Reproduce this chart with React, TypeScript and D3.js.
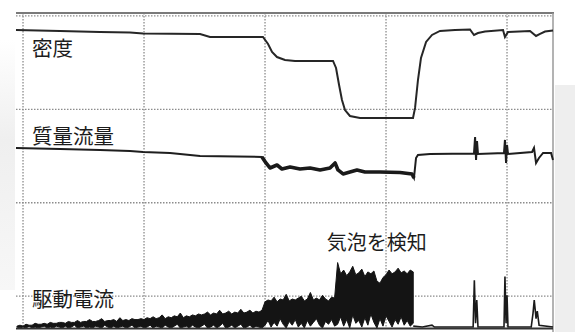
import React, { useRef, useEffect } from "react";
import * as d3 from "d3";

// time axis in divisions, signal levels in divisions above the bottom edge
const gridTimes = [0, 1, 2, 3, 4];
const gridLevels = [0.34, 1.34, 2.34, 3.34];

const densityT = [-0.058, 0.306, 0.636, 0.884, 0.992, 1.463, 1.545, 1.983, 2.025, 2.058, 2.099, 2.165, 2.248, 2.562, 2.587, 2.612, 2.636, 2.661, 2.702, 2.785, 3.223, 3.24, 3.264, 3.289, 3.331, 3.38, 3.446, 3.57, 3.694, 3.727, 3.76, 3.818, 3.967, 3.983, 4.008, 4.19, 4.24, 4.273, 4.314, 4.38];
const densityV = [3.188, 3.178, 3.167, 3.161, 3.151, 3.146, 3.113, 3.113, 3.039, 2.953, 2.899, 2.867, 2.857, 2.857, 2.782, 2.6, 2.439, 2.332, 2.268, 2.247, 2.247, 2.354, 2.653, 2.889, 3.06, 3.135, 3.178, 3.188, 3.194, 3.135, 3.156, 3.172, 3.188, 3.113, 3.167, 3.178, 3.124, 3.146, 3.172, 3.183];

const massFlowT = [-0.058, 0.306, 0.636, 0.884, 0.992, 1.215, 1.463, 1.975, 2.008, 2.041, 2.099, 2.14, 2.207, 2.289, 2.372, 2.455, 2.537, 2.579, 2.603, 2.645, 2.702, 2.76, 2.826, 2.95, 3.116, 3.215, 3.231, 3.248, 3.264, 3.364, 3.727, 3.736, 3.744, 3.752, 3.76, 3.975, 3.983, 3.992, 4.0, 4.008, 4.207, 4.223, 4.24, 4.264, 4.298, 4.364, 4.38];
const massFlowV = [1.926, 1.915, 1.905, 1.894, 1.883, 1.873, 1.84, 1.83, 1.766, 1.712, 1.744, 1.701, 1.723, 1.701, 1.712, 1.691, 1.712, 1.766, 1.691, 1.648, 1.669, 1.691, 1.669, 1.669, 1.664, 1.648, 1.605, 1.819, 1.851, 1.862, 1.867, 2.044, 1.798, 2.001, 1.862, 1.873, 2.012, 1.766, 1.958, 1.862, 1.883, 1.926, 1.766, 1.819, 1.873, 1.873, 1.798];
// noisy stretch while the pump sees gas
const massFlowNoisy = [1.975, 3.235];

// drive current sampled every 0.025 div from -0.05 (peak / trough of the ripple)
const currentStart = -0.05;
const currentStep = 0.025;
const currentPeak = [
  0.02, 0.03, 0.02, 0.04, 0.03, 0.03, 0.05, 0.04, 0.04, 0.05, 0.04, 0.06, 0.05, 0.05, 0.06,
  0.06, 0.05, 0.07, 0.06, 0.06, 0.08, 0.06, 0.07, 0.07, 0.09, 0.07, 0.07, 0.08, 0.1, 0.07, 0.08, 0.08, 0.09, 0.07, 0.11, 0.08, 0.09, 0.08, 0.1, 0.09, 0.09,
  0.1, 0.09, 0.11, 0.1, 0.12, 0.1, 0.11, 0.14, 0.1, 0.12, 0.11, 0.13, 0.12, 0.16, 0.11, 0.13, 0.12, 0.14, 0.13, 0.15,
  0.14, 0.15, 0.17, 0.14, 0.16, 0.15, 0.19, 0.15, 0.16, 0.18, 0.15, 0.17, 0.16, 0.2, 0.16, 0.17, 0.19, 0.16, 0.18, 0.17, 0.19,
  0.28, 0.3, 0.29, 0.33, 0.28, 0.31, 0.3, 0.36, 0.29, 0.31, 0.3, 0.32, 0.34, 0.29, 0.31, 0.38, 0.3, 0.32, 0.3, 0.35, 0.31, 0.29, 0.33, 0.32,
  0.7, 0.58, 0.62, 0.56, 0.6, 0.66, 0.57, 0.59, 0.63, 0.55, 0.6, 0.58, 0.61, 0.5, 0.48, 0.54, 0.57, 0.62, 0.58, 0.6, 0.64, 0.59, 0.61, 0.58, 0.62, 0.6,
];
const currentTrough = [
  0.01, 0.0, 0.01, 0.0, 0.02, 0.0, 0.01, 0.0, 0.01, 0.02, 0.0, 0.01, 0.0, 0.02, 0.01,
  0.0, 0.02, 0.0, 0.01, 0.03, 0.0, 0.01, 0.02, 0.0, 0.01, 0.0, 0.02, 0.01, 0.0, 0.03, 0.01, 0.0, 0.02, 0.0, 0.01, 0.02, 0.0, 0.01, 0.03, 0.0, 0.01,
  0.02, 0.0, 0.01, 0.03, 0.0, 0.02, 0.01, 0.0, 0.03, 0.01, 0.0, 0.02, 0.04, 0.0, 0.01, 0.02, 0.0, 0.03, 0.01, 0.0,
  0.02, 0.04, 0.0, 0.01, 0.03, 0.0, 0.02, 0.05, 0.0, 0.01, 0.03, 0.0, 0.02, 0.04, 0.0, 0.01, 0.03, 0.0, 0.02, 0.01, 0.0,
  0.03, 0.08, 0.01, 0.06, 0.02, 0.1, 0.04, 0.0, 0.07, 0.03, 0.09, 0.01, 0.05, 0.0, 0.08, 0.02, 0.06, 0.1, 0.03, 0.0, 0.07, 0.04, 0.09, 0.02,
  0.04, 0.12, 0.02, 0.09, 0.0, 0.14, 0.05, 0.08, 0.01, 0.11, 0.03, 0.15, 0.06, 0.0, 0.1, 0.02, 0.13, 0.07, 0.01, 0.09, 0.04, 0.12, 0.03, 0.08, 0.02, 0.05,
];
const currentTailT = [3.225, 3.3, 3.38, 3.4, 3.72, 3.73, 3.74, 3.75, 3.76, 3.975, 3.983, 3.992, 4.0, 4.008, 4.2, 4.215, 4.225, 4.24, 4.25, 4.265, 4.38];
const currentTailV = [0.02, 0.01, 0.03, 0.01, 0.01, 0.51, 0.05, 0.3, 0.01, 0.01, 0.55, 0.05, 0.35, 0.01, 0.01, 0.16, 0.3, 0.1, 0.18, 0.03, 0.01];

const traceLabels = ["密度", "質量流量", "駆動電流"];
const traceLabelLevels = [2.91, 1.97, 0.23];
const bubbleLabel = "気泡を検知";

const W = 575;
const H = 332;
const FONT = "'Noto Sans CJK JP', 'Noto Sans', sans-serif";

const ScopeChart = () => {
  const ref = useRef<SVGSVGElement>(null);

  useEffect(() => {
    const svg = d3.select(ref.current);
    svg.selectAll("*").remove();

    const x = d3.scaleLinear().domain([-0.058, 4.38]).range([16, 553]);
    const y = d3.scaleLinear().domain([0, 3.37]).range([328, 13]);

    // soft photo background outside the screen
    svg.append("rect").attr("width", W).attr("height", H).attr("fill", "#fff");
    const grad = svg.append("defs").append("linearGradient").attr("id", "lg").attr("x1", 0).attr("x2", 0).attr("y1", 0).attr("y2", 1);
    grad.append("stop").attr("offset", "0%").attr("stop-color", "#fff");
    grad.append("stop").attr("offset", "40%").attr("stop-color", "#efefef");
    grad.append("stop").attr("offset", "100%").attr("stop-color", "#f7f7f7");
    svg.append("rect").attr("x", 0).attr("y", 40).attr("width", 15).attr("height", 250).attr("fill", "url(#lg)");
    svg.append("rect").attr("x", 555).attr("y", 85).attr("width", 20).attr("height", H - 85).attr("fill", "#eeeeee");

    // dotted grid
    const grid = svg.append("g").attr("stroke", "#8c8c8c").attr("stroke-width", 1.3).attr("stroke-dasharray", "1.5,1.5");
    grid.selectAll("line.v").data(gridTimes).enter().append("line")
      .attr("x1", (d) => x(d)).attr("x2", (d) => x(d))
      .attr("y1", y(3.37)).attr("y2", y(0));
    grid.selectAll("line.h").data(gridLevels).enter().append("line")
      .attr("x1", x(-0.058)).attr("x2", x(4.38))
      .attr("y1", (d) => y(d)).attr("y2", (d) => y(d));

    // frame
    svg.append("line").attr("x1", 16).attr("x2", 554).attr("y1", y(3.37)).attr("y2", y(3.37))
      .attr("stroke", "#7a7a7a").attr("stroke-width", 2);
    svg.append("line").attr("x1", x(4.38)).attr("x2", x(4.38)).attr("y1", y(3.37)).attr("y2", H)
      .attr("stroke", "#9a9a9a").attr("stroke-width", 1.5);

    const line = d3.line<[number, number]>().x((d) => x(d[0])).y((d) => y(d[1]));

    svg.append("path")
      .attr("d", line(d3.zip(densityT, densityV) as [number, number][]))
      .attr("fill", "none").attr("stroke", "#262626").attr("stroke-width", 2);

    const massPts = d3.zip(massFlowT, massFlowV) as [number, number][];
    svg.append("path")
      .attr("d", line(massPts))
      .attr("fill", "none").attr("stroke", "#1e1e1e").attr("stroke-width", 2);
    svg.append("path")
      .attr("d", line(massPts.filter((d) => d[0] >= massFlowNoisy[0] && d[0] <= massFlowNoisy[1])))
      .attr("fill", "none").attr("stroke", "#1a1a1a").attr("stroke-width", 3.6)
      .attr("stroke-linejoin", "round");

    // drive current ripple band
    const band = currentPeak.map((p, i) => ({ t: currentStart + i * currentStep, hi: p, lo: currentTrough[i] }));
    const area = d3.area<{ t: number; hi: number; lo: number }>()
      .x((d) => x(d.t)).y0((d) => y(d.lo)).y1((d) => y(d.hi));
    svg.append("path").attr("d", area(band)).attr("fill", "#141414")
      .attr("stroke", "#141414").attr("stroke-width", 1);

    svg.append("path")
      .attr("d", line(d3.zip(currentTailT, currentTailV) as [number, number][]))
      .attr("fill", "none").attr("stroke", "#1a1a1a").attr("stroke-width", 1.6);

    // baseline
    svg.append("line").attr("x1", 16).attr("x2", x(4.38)).attr("y1", y(0) + 0.5).attr("y2", y(0) + 0.5)
      .attr("stroke", "#333").attr("stroke-width", 2);

    // labels
    svg.selectAll("text.trace").data(traceLabels).enter().append("text")
      .attr("x", x(0.075)).attr("y", (d, i) => y(traceLabelLevels[i]))
      .text((d) => d)
      .style("font-family", FONT).style("font-size", "20.5px").style("fill", "#1c1c1c");

    svg.append("text").attr("x", x(2.51)).attr("y", y(0.83)).text(bubbleLabel)
      .style("font-family", FONT).style("font-size", "20px").style("fill", "#1c1c1c");
  }, []);

  return <svg ref={ref} width={W} height={H} style={{ position: "absolute", left: 0, top: 0 }} />;
};

export default function App() {
  return <ScopeChart />;
}
